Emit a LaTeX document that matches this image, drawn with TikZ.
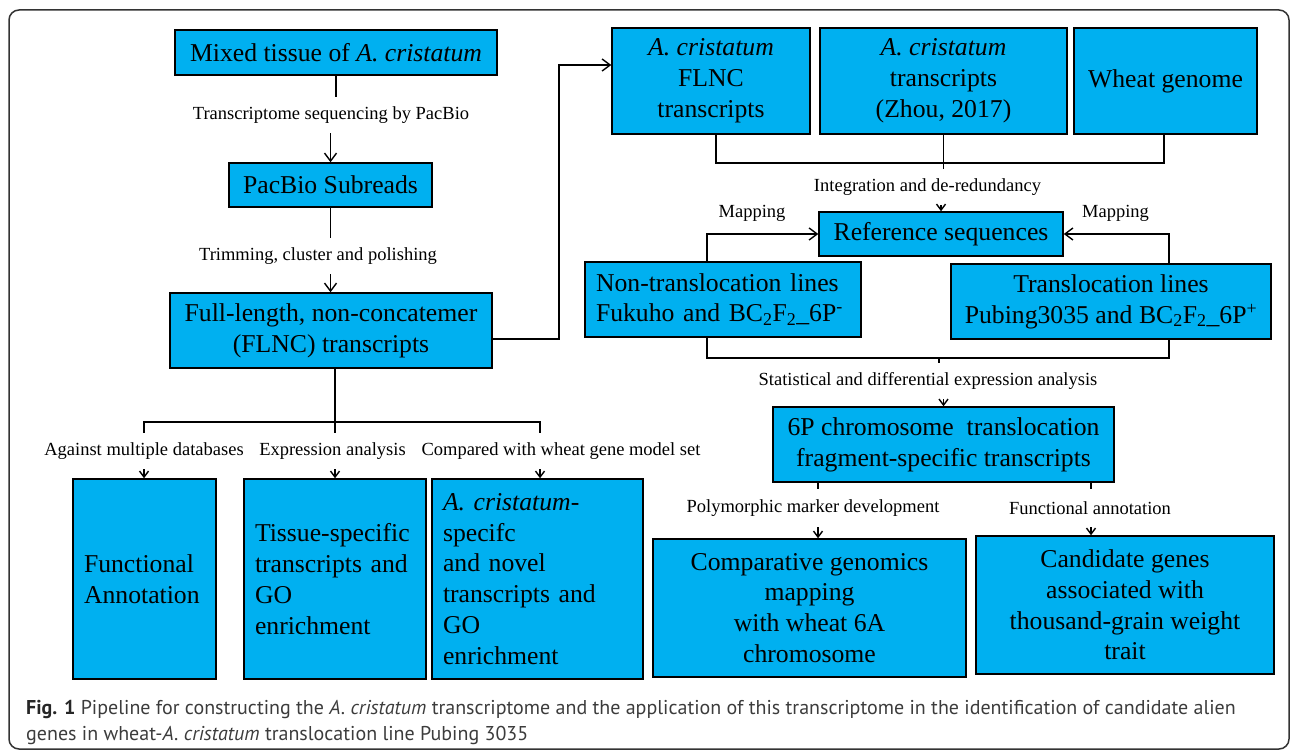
\documentclass[tikz,border=0pt]{standalone}
\usepackage{fontspec}
\setmainfont{Liberation Serif}
\newfontfamily\capfont{PT Sans}
\usetikzlibrary{arrows.meta,calc}
\definecolor{boxblue}{HTML}{00B0F0}
\definecolor{capgray}{HTML}{3C3C3C}
\definecolor{framegray}{HTML}{333333}
\begin{document}
\begin{tikzpicture}[x=1pt,y=-1pt,
  box/.style={draw=black, line width=1.5pt, fill=boxblue, inner sep=0pt, align=center,
    font=\fontsize{25.7}{30.8}\selectfont},
  lbox/.style={box, align=left, inner xsep=11pt},
  lbl/.style={inner sep=0pt, font=\fontsize{18.5}{22}\selectfont},
  gaplbl/.style={lbl, minimum height=36pt},
  conn/.style={line width=1.4pt},
  arr/.style={conn, -{Straight Barb[length=8pt,width=12pt,line width=1.4pt]}},
  sarr/.style={conn, -{Straight Barb[length=6pt,width=9pt,line width=1.4pt]}}]
\useasboundingbox (0,0) rectangle (1290,751);
\draw[framegray, line width=1.5pt, rounded corners=10pt] (9,10) rectangle (1289,749);

% boxes
\node[box, minimum width=322pt, minimum height=45pt] (mixed) at (336,52.5) {Mixed tissue of \textit{A. cristatum}};
\node[box, minimum width=203pt, minimum height=44pt] (pacbio) at (330.5,185) {PacBio Subreads};
\node[box, minimum width=322pt, minimum height=75pt] (flnc) at (331,330.5) {Full-length, non-concatemer\\(FLNC) transcripts};
\node[box, minimum width=198pt, minimum height=106pt] (acflnc) at (711,81) {\textit{A. cristatum}\\FLNC\\transcripts};
\node[box, minimum width=247pt, minimum height=106pt] (zhou) at (943.5,81) {\textit{A. cristatum}\\transcripts\\(Zhou, 2017)};
\node[box, minimum width=183pt, minimum height=106pt] (wheat) at (1165.5,81) {Wheat genome};
\node[box, minimum width=244pt, minimum height=44pt] (ref) at (941,234) {Reference sequences};
\node[lbox, inner xsep=11pt, text width=254pt, minimum height=75pt] (nontr) at (723,299.5) {Non-translocation lines\\Fukuho and BC\textsubscript{2}F\textsubscript{2}\_6P\textsuperscript{-}};
\node[box, minimum width=320pt, minimum height=75pt] (trans) at (1111,301.5) {Translocation lines\\Pubing3035 and BC\textsubscript{2}F\textsubscript{2}\_6P\textsuperscript{+}};
\node[box, minimum width=341pt, minimum height=75pt] (p6) at (943.5,444.5) {6P chromosome\ \ translocation\\fragment-specific transcripts};
\node[box, minimum width=313pt, minimum height=138pt] (comp) at (809.5,608) {Comparative genomics\\mapping\\with wheat 6A\\chromosome};
\node[box, minimum width=298pt, minimum height=138pt] (cand) at (1125,605) {Candidate genes\\associated with\\thousand-grain weight\\trait};
\node[lbox, text width=121pt, minimum height=200pt] (func) at (144.5,579) {Functional\\Annotation};
\node[lbox, text width=160pt, minimum height=200pt] (tissue) at (335,579) {Tissue-specific\\transcripts and\\GO\\enrichment};
\node[lbox, text width=189pt, minimum height=200pt] (acspec) at (537.5,579) {\textit{A. cristatum}-\\specifc\\and novel\\transcripts and\\GO\\enrichment};

% labels
\node[gaplbl] (l1) at (331,115) {Transcriptome sequencing by PacBio};
\node[gaplbl] (l2) at (318,256) {Trimming, cluster and polishing};
\node[gaplbl] (l3) at (927.5,187) {Integration and de-redundancy};
\node[lbl] (m1) at (752,213) {Mapping};
\node[lbl] (m2) at (1115.5,213) {Mapping};
\node[gaplbl] (l4) at (928,381) {Statistical and differential expression analysis};
\node[gaplbl, minimum height=38pt] (l5) at (813,508) {Polymorphic marker development};
\node[gaplbl, minimum height=38pt] (l6) at (1090,508) {Functional annotation};
\node[gaplbl] (l7) at (144,451) {Against multiple databases};
\node[gaplbl] (l8) at (332.5,451) {Expression analysis};
\node[gaplbl] (l9) at (561,451) {Compared with wheat gene model set};

% left column
\draw[conn] (mixed.south) -- (mixed.south |- l1.north);
\draw[arr] (pacbio.north |- l1.south) -- (pacbio.north);
\draw[conn] (pacbio.south) -- (pacbio.south |- l2.north);
\draw[arr] (pacbio.south |- l2.south) -- (pacbio.south |- flnc.north);

% to top right
\coordinate (fe) at ($(flnc.east)+(0,8.5)$);
\coordinate (r1) at (559,65);
\draw[arr] (fe) -| (r1) -- (r1 -| acflnc.west);

% top bracket
\coordinate (tb) at (0,163);
\coordinate (ta) at ($(acflnc.south)+(5,0)$);
\coordinate (tw) at ($(wheat.south)+(-1.5,0)$);
\draw[conn] (ta) -- (ta |- tb) -- (tw |- tb) -- (tw);
\draw[conn] (zhou.south) -- (zhou.south |- l3.north);
\draw[sarr] (ref.north |- l3.south) -- (ref.north);

% mapping
\coordinate (nl) at ($(nontr.north)+(-16,0)$);
\coordinate (tl) at ($(trans.north)+(58,0)$);
\draw[arr] (nl) |- (ref.west);
\draw[arr] (tl) |- (ref.east);

% bottom bracket
\coordinate (bb) at (0,358);
\coordinate (nb) at ($(nontr.south)+(-16,0)$);
\coordinate (tbb) at ($(trans.south)+(58,0)$);
\draw[conn] (nb) -- (nb |- bb) -- (tbb |- bb) -- (tbb);
\coordinate (bm) at (939,358);
\draw[conn] (bm) -- (bm |- l4.north);
\draw[sarr] (p6.north |- l4.south) -- (p6.north);

% 6P outputs
\coordinate (s1) at (818,0);
\coordinate (s2) at (1091,0);
\draw[conn] (p6.south -| s1) -- (l5.north -| s1);
\draw[sarr] (l5.south -| s1) -- (comp.north -| s1);
\draw[conn] (p6.south -| s2) -- (l6.north -| s2);
\draw[sarr] (l6.south -| s2) -- (cand.north -| s2);

% left bottom
\coordinate (fb) at (335,0);
\coordinate (hb) at (0,422);
\coordinate (x1) at (144,0);
\coordinate (x3) at (540,0);
\draw[conn] (flnc.south -| fb) -- (fb |- l8.north);
\draw[conn] (x1 |- l7.north) -- (x1 |- hb) -- (x3 |- hb) -- (x3 |- l9.north);
\draw[sarr] (x1 |- l7.south) -- (func.north -| x1);
\draw[sarr] (fb |- l8.south) -- (tissue.north -| fb);
\draw[sarr] (x3 |- l9.south) -- (acspec.north -| x3);

% caption
\node[anchor=base west, inner sep=0pt, text=capgray, font=\capfont\fontsize{20}{24}\selectfont] (cap1) at (26,714)
  {{\bfseries\color{black!85}Fig. 1} Pipeline for constructing the \textit{A. cristatum} transcriptome and the application of this transcriptome in the identification of candidate alien};
\node[anchor=base west, inner sep=0pt, text=capgray, font=\capfont\fontsize{20}{24}\selectfont] (cap2) at (26,740)
  {genes in wheat-\textit{A. cristatum} translocation line Pubing 3035};
\end{tikzpicture}
\end{document}
